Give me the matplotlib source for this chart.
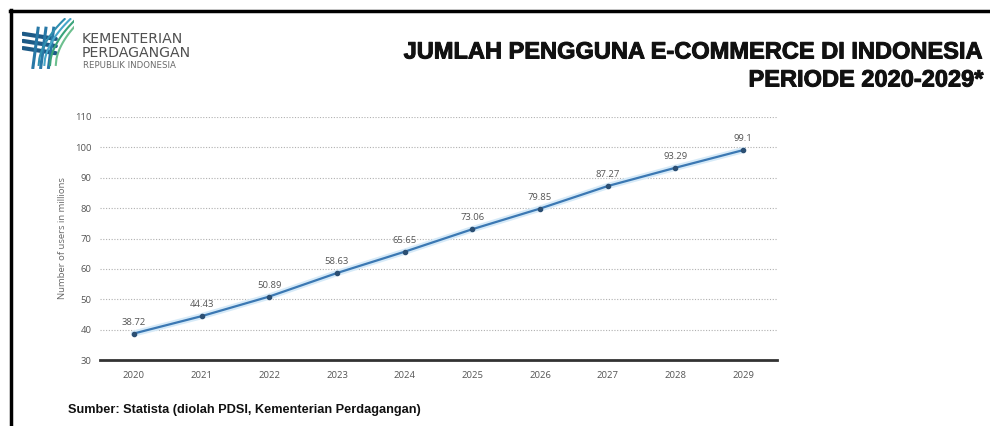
import matplotlib
matplotlib.use("Agg")
import matplotlib.pyplot as plt
import matplotlib.patheffects as pe
import numpy as np
from matplotlib.lines import Line2D

years = [2020, 2021, 2022, 2023, 2024, 2025, 2026, 2027, 2028, 2029]
users = [38.72, 44.43, 50.89, 58.63, 65.65, 73.06, 79.85, 87.27, 93.29, 99.1]
labels = ["38.72", "44.43", "50.89", "58.63", "65.65", "73.06", "79.85", "87.27", "93.29", "99.1"]
yticks = [30, 40, 50, 60, 70, 80, 90, 100, 110]

W, H = 990, 426
fig = plt.figure(figsize=(W / 100, H / 100), dpi=100)
fig.patch.set_facecolor("white")

def fx(px):
    return px / W

def fy(py):
    return 1 - py / H

# border
fig.add_artist(Line2D([fx(10), fx(990)], [fy(11), fy(11)], color="black", lw=2.5, transform=fig.transFigure))
fig.add_artist(Line2D([fx(11), fx(11)], [fy(10), fy(426)], color="black", lw=2.5, transform=fig.transFigure))

# logo (simplified)
lax = fig.add_axes([fx(22), fy(69), fx(52), (69 - 18) / H])
lax.set_xlim(0, 10)
lax.set_ylim(0, 10)
lax.axis("off")
for y in [6.4, 5.0, 3.6]:
    lax.plot([0.2, 6.5], [y + 0.5, y - 0.5], color="#1d5a86", lw=3.0, solid_capstyle="round")
for x in [2.8, 4.3, 5.8]:
    lax.plot([x - 0.7, x + 0.3], [0.3, 8.0], color="#2878a6", lw=2.2)
t = np.linspace(0, 1, 40)
for k, c in enumerate(["#2f8fb0", "#46a6c9", "#3aa37a", "#6cbf8e"]):
    xs = 3.2 + k * 1.1 + 5.0 * t
    ys = 0.8 + 9.0 * t ** 0.55
    lax.plot(xs, ys, color=c, lw=1.5)

fig.text(fx(82), fy(46), "KEMENTERIAN\nPERDAGANGAN", fontsize=10.2, color="#505050", family="DejaVu Sans",
         va="center", ha="left", linespacing=0.95)
fig.text(fx(83), fy(65.5), "REPUBLIK INDONESIA", fontsize=6.2, color="#6a6a6a", family="DejaVu Sans",
         va="center", ha="left")

# title
stroke = [pe.withStroke(linewidth=0.7, foreground="#111111")]
fig.text(fx(984), fy(52), "JUMLAH PENGGUNA E-COMMERCE DI INDONESIA", fontsize=17, fontweight="bold",
         family="Liberation Sans", ha="right", va="center", color="#111111", path_effects=stroke)
fig.text(fx(984), fy(80), "PERIODE 2020-2029*", fontsize=17, fontweight="bold",
         family="Liberation Sans", ha="right", va="center", color="#111111", path_effects=stroke)

# chart
ax = fig.add_axes([fx(100), fy(360), fx(777) - fx(100), fy(117) - fy(360)])
ax.plot(years, users, color="#d6eaf8", lw=4.5, zorder=2, solid_capstyle="round")
ax.plot(years, users, color="#3b78b3", lw=1.6, marker="o", markersize=3, markerfacecolor="#2c4f73",
        markeredgecolor="#2c4f73", zorder=3)
for x, y, s in zip(years, users, labels):
    ax.annotate(s, (x, y), xytext=(0, 5), textcoords="offset points", ha="center", va="bottom",
                fontsize=6.8, color="#555555", family="Open Sans")
ax.set_xlim(2019.5, 2029.5)
ax.set_ylim(30, 110)
ax.set_yticks(yticks)
ax.set_xticks(years)
ax.set_xticklabels([str(y) for y in years])
ax.grid(axis="y", linestyle=(0, (1, 1.5)), color="#b0b0b0", lw=0.8)
ax.set_axisbelow(True)
for s in ["top", "right", "left"]:
    ax.spines[s].set_visible(False)
ax.spines["bottom"].set_color("#333333")
ax.spines["bottom"].set_linewidth(2.0)
ax.tick_params(axis="x", length=0, labelsize=6.8, labelcolor="#555555", pad=8)
ax.tick_params(axis="y", length=0, labelsize=6.8, labelcolor="#555555", pad=6)
for lab in ax.get_xticklabels() + ax.get_yticklabels():
    lab.set_family("Open Sans")
ax.set_ylabel("Number of users in millions", fontsize=6.8, color="#666666", family="Open Sans", labelpad=6)

fig.text(fx(68), fy(410), "Sumber: Statista (diolah PDSI, Kementerian Perdagangan)", fontsize=9.2,
         fontweight="bold", family="Liberation Sans", ha="left", va="center", color="#111111")

fig.savefig("out.png", dpi=100)
